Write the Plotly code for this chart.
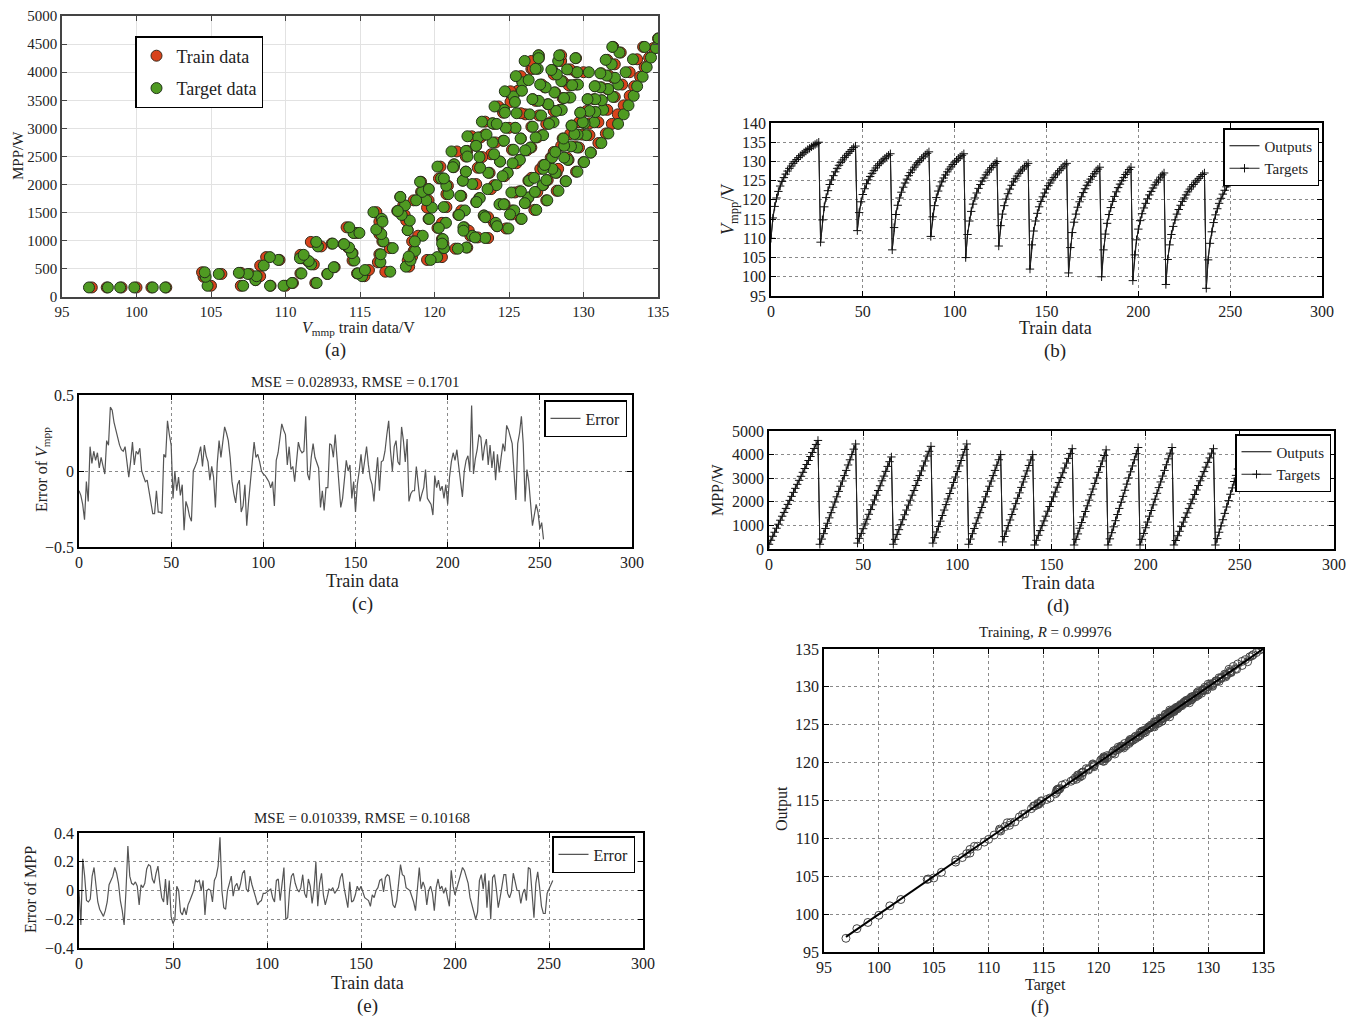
import plotly.graph_objects as go

# ---------------- data ----------------
# Vmpp target values (V), train data index 0..252
vmpp = [
    110.0, 115.3, 118.3, 120.5, 122.2, 123.6, 124.8, 125.8, 126.7, 127.5, 128.2, 128.8, 129.5, 130.0, 130.5, 131.0, 131.5, 131.9, 132.3, 132.7, 133.1, 133.4, 133.8, 134.1, 134.4, 134.7, 135.0,
    109.0, 114.8, 118.2, 120.6, 122.4, 124.0, 125.2, 126.3, 127.3, 128.2, 129.0, 129.7, 130.4, 131.0, 131.6, 132.1, 132.6, 133.1, 133.6, 134.0,
    112.0, 116.7, 119.5, 121.4, 122.9, 124.2, 125.2, 126.1, 126.9, 127.6, 128.3, 128.9, 129.4, 129.9, 130.4, 130.8, 131.2, 131.6, 132.0,
    107.0, 112.8, 116.2, 118.6, 120.5, 122.0, 123.3, 124.4, 125.4, 126.3, 127.1, 127.8, 128.5, 129.1, 129.7, 130.2, 130.7, 131.2, 131.7, 132.1, 132.5,
    110.5, 115.6, 118.5, 120.6, 122.3, 123.6, 124.7, 125.7, 126.5, 127.3, 128.0, 128.6, 129.2, 129.8, 130.3, 130.8, 131.2, 131.6, 132.0,
    105.0, 111.0, 114.5, 117.0, 118.9, 120.5, 121.8, 123.0, 124.0, 124.9, 125.7, 126.5, 127.2, 127.8, 128.4, 129.0, 129.5, 130.0,
    108.0, 113.3, 116.3, 118.5, 120.2, 121.6, 122.8, 123.8, 124.7, 125.5, 126.2, 126.9, 127.5, 128.0, 128.6, 129.0, 129.5,
    102.0, 108.3, 111.9, 114.5, 116.5, 118.2, 119.6, 120.8, 121.8, 122.8, 123.7, 124.4, 125.2, 125.8, 126.5, 127.0, 127.6, 128.1, 128.6, 129.1, 129.5,
    101.0, 107.6, 111.5, 114.2, 116.3, 118.1, 119.5, 120.8, 121.9, 122.9, 123.8, 124.6, 125.4, 126.1, 126.8, 127.4, 128.0, 128.5,
    100.0, 107.0, 111.1, 113.9, 116.2, 118.0, 119.6, 120.9, 122.1, 123.2, 124.1, 125.0, 125.8, 126.6, 127.2, 127.9, 128.5,
    99.0, 105.7, 109.6, 112.4, 114.6, 116.4, 117.9, 119.1, 120.3, 121.3, 122.2, 123.1, 123.9, 124.6, 125.2, 125.9, 126.5, 127.0,
    98.0, 104.5, 108.3, 111.0, 113.1, 114.8, 116.3, 117.5, 118.6, 119.6, 120.5, 121.3, 122.1, 122.8, 123.4, 124.0, 124.6, 125.1, 125.6, 126.1, 126.6, 127.0,
    97.0, 104.4, 108.7, 111.7, 114.1, 116.1, 117.7, 119.1, 120.4, 121.5, 122.5, 123.4, 124.3, 125.1, 125.8, 126.5,
]

# MPP target values (W)
mpp = [
    200, 370, 540, 710, 880, 1050, 1220, 1390, 1550, 1720, 1890, 2060, 2230, 2400, 2570, 2740, 2910, 3080, 3250, 3410, 3580, 3750, 3920, 4090, 4260, 4430, 4600,
    200, 420, 650, 870, 1090, 1320, 1540, 1770, 1990, 2210, 2440, 2660, 2880, 3110, 3330, 3560, 3780, 4000, 4230, 4450,
    250, 450, 660, 860, 1060, 1260, 1470, 1670, 1870, 2080, 2280, 2480, 2680, 2890, 3090, 3290, 3500, 3700, 3900,
    200, 410, 620, 820, 1030, 1240, 1450, 1650, 1860, 2070, 2280, 2480, 2690, 2900, 3110, 3310, 3520, 3730, 3940, 4140, 4350,
    250, 480, 720, 950, 1180, 1420, 1650, 1880, 2120, 2350, 2580, 2820, 3050, 3280, 3520, 3750, 3980, 4220, 4450,
    200, 420, 650, 870, 1090, 1320, 1540, 1760, 1990, 2210, 2440, 2660, 2880, 3110, 3330, 3550, 3780, 4000,
    300, 530, 760, 990, 1230, 1460, 1690, 1920, 2150, 2380, 2610, 2840, 3080, 3310, 3540, 3770, 4000,
    170, 370, 580, 780, 990, 1190, 1390, 1600, 1800, 2010, 2210, 2410, 2620, 2820, 3030, 3230, 3430, 3640, 3840, 4050, 4250,
    170, 410, 640, 880, 1120, 1360, 1590, 1830, 2070, 2300, 2540, 2780, 3010, 3250, 3490, 3730, 3960, 4200,
    170, 430, 690, 940, 1200, 1460, 1720, 1980, 2230, 2490, 2750, 3010, 3270, 3520, 3780, 4040, 4300,
    170, 410, 660, 900, 1140, 1390, 1630, 1870, 2110, 2360, 2600, 2840, 3090, 3330, 3570, 3820, 4060, 4300,
    170, 360, 560, 750, 950, 1140, 1340, 1530, 1720, 1920, 2110, 2310, 2500, 2690, 2890, 3080, 3280, 3470, 3670, 3860, 4060, 4250,
    170, 440, 710, 980, 1240, 1510, 1780, 2050, 2320, 2590, 2860, 3120, 3390, 3660, 3930, 4200,
]

# Error of Vmpp (plot c)
err_v = [
    -0.13, -0.16, -0.22, -0.32, -0.07, -0.2, 0.16, 0.05, 0.13, 0.07, 0.12, 0.02, 0.09, 0.04, -0.02, 0.2, 0.17, 0.42, 0.4, 0.32,
    0.27, 0.2, 0.17, 0.14, 0.13, 0.16, 0.04, -0.04, 0.06, 0.19, 0.04, 0.13, 0.11, 0.15, 0.0, -0.04, -0.07, -0.06, -0.13, -0.22,
    -0.28, -0.28, -0.13, -0.27, -0.27, -0.28, 0.11, 0.09, 0.33, 0.24, 0.17, -0.18, 0.0, -0.13, -0.04, -0.16, -0.09, -0.39, -0.2, -0.24,
    -0.3, -0.33, 0.0, 0.03, 0.06, 0.11, 0.16, 0.03, 0.17, 0.1, 0.06, -0.06, 0.03, -0.04, -0.24, 0.05, 0.2, 0.09, 0.2, 0.29,
    0.25, 0.2, 0.09, -0.07, -0.15, -0.21, -0.09, -0.06, -0.27, -0.23, -0.09, -0.36, -0.2, -0.05, 0.1, 0.19, 0.09, 0.11, 0.06, 0.0,
    -0.02, -0.03, -0.05, -0.07, -0.11, -0.07, -0.23, 0.07, 0.12, 0.2, 0.31, 0.27, 0.24, 0.04, 0.16, 0.01, 0.03, -0.07, 0.09, 0.19,
    0.14, 0.12, 0.13, 0.36, -0.02, -0.06, 0.09, 0.18, 0.09, 0.05, 0.02, -0.24, -0.13, -0.26, -0.11, -0.11, 0.18, 0.17, 0.09, 0.24,
    0.08, -0.07, -0.24, -0.18, -0.04, 0.07, 0.0, 0.04, -0.18, -0.07, -0.27, -0.09, 0.0, 0.11, -0.02, 0.09, 0.16, 0.04, -0.05, -0.09,
    -0.2, -0.04, 0.09, -0.13, 0.06, 0.07, 0.13, 0.24, 0.33, 0.13, 0.0, 0.16, 0.2, 0.06, 0.04, 0.29, 0.2, 0.06, 0.21, -0.2,
    -0.15, -0.13, -0.13, 0.03, -0.11, -0.2, -0.15, -0.11, 0.01, -0.18, -0.2, -0.22, -0.29, -0.03, -0.11, -0.06, -0.13, -0.1, -0.18, -0.09,
    -0.22, -0.04, 0.06, 0.12, 0.07, 0.14, 0.03, -0.09, -0.17, 0.0, 0.07, 0.1, 0.0, 0.43, -0.02, 0.08, 0.14, 0.24, 0.22, 0.07,
    0.16, 0.21, 0.04, 0.17, 0.02, 0.13, -0.06, 0.11, -0.01, 0.09, 0.18, 0.13, 0.3, 0.27, 0.22, 0.18, -0.01, -0.19, 0.18, 0.25,
    0.36, 0.18, -0.2, 0.01, -0.07, -0.2, -0.36, -0.29, -0.22, -0.27, -0.38, -0.34, -0.45,
]

# Error of MPP (plot e)
err_p = [
    0.0, -0.24, 0.22, 0.1, -0.07, -0.08, -0.06, 0.1, 0.16, 0.05, -0.08, -0.13, -0.16, -0.18, -0.14, -0.08, 0.04, 0.07, 0.1, 0.16,
    0.12, 0.05, -0.07, -0.14, -0.24, 0.0, 0.31, 0.1, 0.05, 0.04, 0.06, 0.03, -0.1, 0.04, 0.02, 0.05, 0.15, 0.18, 0.17, 0.08,
    0.05, 0.12, 0.17, 0.05, -0.05, -0.08, 0.08, -0.1, 0.07, -0.18, -0.23, -0.2, 0.03, 0.0, -0.15, -0.17, -0.12, -0.17, -0.1, -0.07,
    -0.04, 0.0, 0.07, 0.06, 0.07, 0.0, 0.07, -0.17, 0.0, 0.01, 0.0, -0.08, 0.07, 0.1, 0.17, 0.37, 0.0, -0.12, -0.13, 0.0,
    0.05, 0.1, -0.04, 0.03, 0.05, 0.0, 0.05, 0.12, 0.14, 0.01, -0.01, 0.1, 0.04, 0.0, -0.05, -0.1, -0.08, -0.07, -0.02, -0.02,
    -0.01, 0.0, 0.01, -0.05, -0.08, 0.07, 0.08, -0.07, 0.05, 0.16, -0.2, -0.19, 0.0, 0.1, 0.12, 0.05, 0.01, -0.01, 0.02, 0.11,
    -0.02, -0.05, 0.08, 0.03, -0.09, 0.01, 0.2, -0.11, 0.05, 0.12, -0.03, -0.1, -0.05, 0.01, 0.0, 0.02, -0.02, 0.0, 0.02, 0.09,
    0.12, 0.02, -0.05, -0.12, 0.06, -0.08, -0.07, -0.03, 0.03, 0.0, 0.03, -0.02, -0.05, -0.06, -0.07, -0.11, -0.03, -0.05, 0.0, 0.02,
    0.07, 0.08, -0.01, 0.09, 0.11, 0.1, 0.01, -0.1, -0.12, -0.07, 0.05, 0.18, 0.11, 0.1, 0.02, 0.01, 0.0, -0.04, -0.08, -0.14,
    0.0, 0.16, 0.01, 0.06, 0.02, -0.1, 0.0, 0.03, -0.02, -0.14, 0.02, 0.08, 0.01, 0.03, -0.02, 0.02, -0.05, -0.11, 0.14, 0.03,
    -0.03, 0.02, 0.07, 0.13, 0.16, 0.14, 0.1, 0.05, -0.05, -0.1, -0.14, -0.2, -0.15, 0.07, 0.11, 0.01, 0.12, -0.12, 0.07, -0.2,
    0.09, 0.11, 0.01, -0.12, -0.05, 0.03, 0.11, 0.11, -0.02, -0.05, -0.01, 0.12, 0.07, 0.0, 0.0, -0.09, -0.02, 0.01, -0.07, 0.16,
    0.15, -0.05, -0.19, 0.05, 0.13, 0.02, -0.11, -0.16, -0.16, -0.02, 0.01, 0.03, 0.07,
]

mse_v_text = "MSE = 0.028933, RMSE = 0.1701"
mse_p_text = "MSE = 0.010339, RMSE = 0.10168"
r_text = "Training, <i>R</i> = 0.99976"

# ---------------- derived series ----------------
n = min(len(vmpp), len(mpp), len(err_v), len(err_p))
vmpp, mpp, err_v, err_p = vmpp[:n], mpp[:n], err_v[:n], err_p[:n]
idx = list(range(n))
out_v = [v + e for v, e in zip(vmpp, err_v)]
out_p = [p + e for p, e in zip(mpp, err_p)]

FONT = "Liberation Serif"
OFF = 8                      # page body margin of the html page
W, H = 1360 - 2 * OFF, 1027 - 2 * OFF


def px_x(x):
    return (x - OFF) / W


def px_y(y):
    return 1 - (y - OFF) / H


def axis(dom, rng, dtick, anchor, grid="dot", gridcolor="#8a8a8a", linecolor="black", fmt=None, fs=16):
    d = dict(
        domain=dom, range=rng, dtick=dtick, anchor=anchor, tick0=rng[0],
        showline=True, linecolor=linecolor, linewidth=1.5, mirror="ticks",
        ticks="inside", ticklen=5, tickcolor=linecolor,
        showgrid=True, gridcolor=gridcolor, griddash=grid, gridwidth=1,
        zeroline=False, fixedrange=True, automargin=False,
        ticklabeloverflow="allow",
        tickfont=dict(family=FONT, size=fs, color="#222"),
    )
    if fmt:
        d["tickformat"] = fmt
    return d


fig = go.Figure()

# (a) scatter
fig.add_trace(go.Scatter(
    x=vmpp, y=mpp, mode="markers", name="Train data", legend="legend", legendgroup="tr",
    marker=dict(size=11, color="#d8431b", line=dict(color="#3a2a1a", width=1)),
    xaxis="x", yaxis="y"))
fig.add_trace(go.Scatter(
    x=out_v, y=mpp, mode="markers", name="Target data", legend="legend", legendgroup="tg",
    marker=dict(size=11, color="#4f9a22", line=dict(color="#23331a", width=1)),
    xaxis="x", yaxis="y"))

# (b) Vmpp outputs/targets
fig.add_trace(go.Scatter(
    x=idx, y=out_v, mode="lines", name="Outputs", legend="legend2",
    line=dict(color="black", width=1), xaxis="x2", yaxis="y2"))
fig.add_trace(go.Scatter(
    x=idx, y=vmpp, mode="lines+markers", name="Targets", legend="legend2",
    line=dict(color="#222", width=1),
    marker=dict(symbol="cross-thin", size=6, line=dict(color="#111", width=1)),
    xaxis="x2", yaxis="y2"))

# (c) error of Vmpp
fig.add_trace(go.Scatter(
    x=idx, y=err_v, mode="lines", name="Error", legend="legend3",
    line=dict(color="#555", width=1.2), xaxis="x3", yaxis="y3"))

# (d) MPP outputs/targets
fig.add_trace(go.Scatter(
    x=idx, y=out_p, mode="lines", name="Outputs", legend="legend4",
    line=dict(color="black", width=1), xaxis="x4", yaxis="y4"))
fig.add_trace(go.Scatter(
    x=idx, y=mpp, mode="lines+markers", name="Targets", legend="legend4",
    line=dict(color="#222", width=1),
    marker=dict(symbol="cross-thin", size=6, line=dict(color="#111", width=1)),
    xaxis="x4", yaxis="y4"))

# (e) error of MPP
fig.add_trace(go.Scatter(
    x=idx, y=err_p, mode="lines", name="Error", legend="legend5",
    line=dict(color="#555", width=1.2), xaxis="x5", yaxis="y5"))

# (f) regression
fig.add_trace(go.Scatter(
    x=vmpp, y=out_v, mode="markers", showlegend=False,
    marker=dict(symbol="circle-open", size=8, color="#444", line=dict(width=1)),
    xaxis="x6", yaxis="y6"))
fig.add_trace(go.Scatter(
    x=[min(vmpp), max(vmpp)], y=[min(vmpp), max(vmpp)], mode="lines", showlegend=False,
    line=dict(color="black", width=2), xaxis="x6", yaxis="y6"))

leg = dict(bgcolor="white", bordercolor="black", borderwidth=1.5,
           yanchor="top", itemwidth=30)

fig.update_layout(
    width=W, height=H, margin=dict(l=0, r=0, t=0, b=0, autoexpand=False),
    paper_bgcolor="white", plot_bgcolor="white", hovermode=False,
    font=dict(family=FONT, color="#222"),
    xaxis=axis([px_x(62), px_x(658)], [95, 135], 5, "y", grid="solid", gridcolor="#e2e2e2", linecolor="#444", fs=15),
    yaxis=axis([px_y(297), px_y(16)], [0, 5000], 500, "x", grid="solid", gridcolor="#e2e2e2", linecolor="#444", fmt="d", fs=15),
    xaxis2=axis([px_x(771), px_x(1322)], [0, 300], 50, "y2"),
    yaxis2=axis([px_y(296), px_y(123)], [95, 140], 5, "x2"),
    xaxis3=axis([px_x(79), px_x(632)], [0, 300], 50, "y3"),
    yaxis3=axis([px_y(547), px_y(395)], [-0.5, 0.5], 0.5, "x3"),
    xaxis4=axis([px_x(769), px_x(1334)], [0, 300], 50, "y4"),
    yaxis4=axis([px_y(549), px_y(431)], [0, 5000], 1000, "x4", fmt="d"),
    xaxis5=axis([px_x(79), px_x(643)], [0, 300], 50, "y5"),
    yaxis5=axis([px_y(948), px_y(833)], [-0.4, 0.4], 0.2, "x5"),
    xaxis6=axis([px_x(824), px_x(1263)], [95, 135], 5, "y6"),
    yaxis6=axis([px_y(952), px_y(649)], [95, 135], 5, "x6"),
    legend=dict(leg, x=px_x(135), y=px_y(36), xanchor="left", tracegroupgap=6,
                font=dict(family=FONT, size=18, color="#222")),
    legend2=dict(leg, x=px_x(1319), y=px_y(128), xanchor="right", font=dict(family=FONT, size=15, color="#222")),
    legend3=dict(leg, x=px_x(627), y=px_y(400), xanchor="right", font=dict(family=FONT, size=16, color="#222")),
    legend4=dict(leg, x=px_x(1331), y=px_y(434), xanchor="right", font=dict(family=FONT, size=15, color="#222")),
    legend5=dict(leg, x=px_x(635), y=px_y(836), xanchor="right", font=dict(family=FONT, size=16, color="#222")),
)

anns = [
    # (text, x px, y px, size, angle)
    ("<i>V</i><sub>mmp</sub> train data/V", 358, 328, 16, 0),
    ("MPP/W", 18, 156, 15, -90),
    ("(a)", 335, 350, 19, 0),
    ("<i>V</i><sub>mpp</sub>/V", 730, 210, 18, -90),
    ("Train data", 1055, 328, 18, 0),
    ("(b)", 1055, 351, 19, 0),
    (mse_v_text, 355, 382, 15, 0),
    ("Error of <i>V</i><sub>mpp</sub>", 42, 470, 16, -90),
    ("Train data", 362, 581, 18, 0),
    ("(c)", 362, 604, 19, 0),
    ("MPP/W", 718, 490, 16, -90),
    ("Train data", 1058, 583, 18, 0),
    ("(d)", 1058, 606, 19, 0),
    (mse_p_text, 362, 818, 15, 0),
    ("Error of MPP", 30, 890, 16, -90),
    ("Train data", 367, 983, 18, 0),
    ("(e)", 367, 1006, 19, 0),
    (r_text, 1045, 632, 15, 0),
    ("Output", 782, 808, 16, -90),
    ("Target", 1045, 985, 16, 0),
    ("(f)", 1040, 1007, 18, 0),
]
for text, x, y, size, ang in anns:
    fig.add_annotation(text=text, x=px_x(x), y=px_y(y), xref="paper", yref="paper",
                       showarrow=False, textangle=ang, xanchor="center", yanchor="middle",
                       font=dict(family=FONT, size=size, color="#222"))

fig.write_html("out.html")
